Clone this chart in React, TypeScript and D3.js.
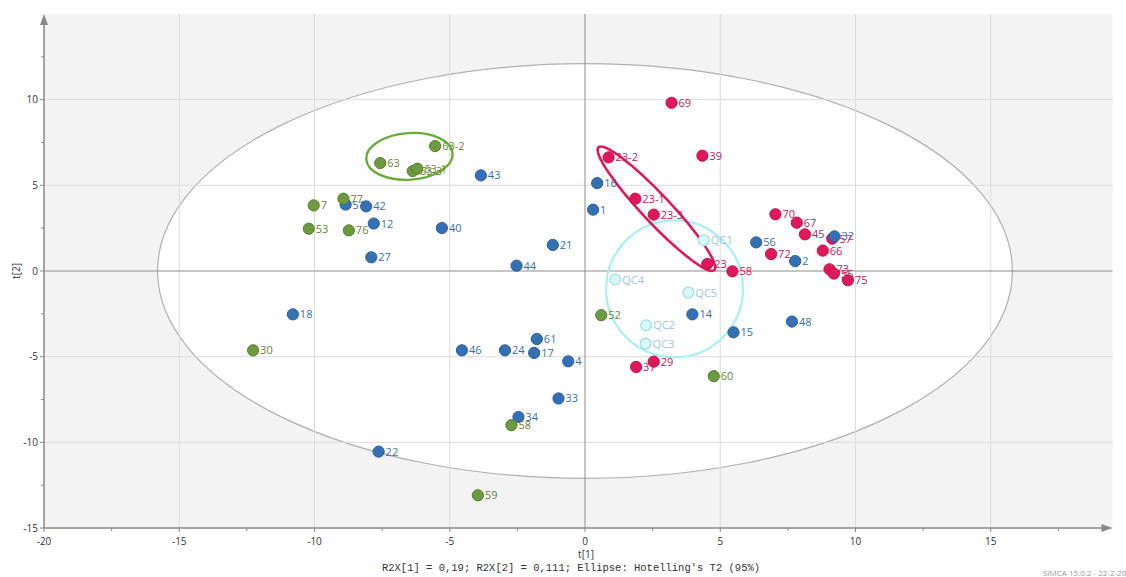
import React from "react";
import * as d3 from "d3";

const W = 1126;
const H = 577;

// ---- data ----
const blueLabels = ["43","51","42","12","40","27","44","21","1","16","56","2","32","18","46","24","17","61","4","33","34","22","14","15","48"];
const blueX = [-3.85,-8.85,-8.09,-7.81,-5.29,-7.90,-2.53,-1.19,0.30,0.45,6.33,7.77,9.22,-10.80,-4.55,-2.96,-1.88,-1.78,-0.62,-0.98,-2.46,-7.63,3.97,5.49,7.65];
const blueY = [5.58,3.88,3.77,2.77,2.51,0.80,0.31,1.52,3.58,5.13,1.67,0.58,2.02,-2.53,-4.63,-4.63,-4.78,-3.97,-5.27,-7.44,-8.52,-10.54,-2.53,-3.58,-2.95];

const greenLabels = ["63-2","63","63-3","63-1","77","7","53","76","30","52","58","59","60"];
const greenX = [-5.54,-7.57,-6.37,-6.20,-8.93,-10.03,-10.21,-8.73,-12.27,0.60,-2.72,-3.96,4.76];
const greenY = [7.29,6.30,5.83,5.97,4.22,3.83,2.47,2.37,-4.63,-2.58,-9.00,-13.09,-6.14];

const redLabels = ["69","23-2","39","23-1","23-3","23","58","70","67","45","57","66","72","73","55","75","29","37"];
const redX = [3.20,0.87,4.34,1.86,2.54,4.52,5.45,7.04,7.83,8.13,9.14,8.79,6.88,9.04,9.20,9.72,2.54,1.89];
const redY = [9.82,6.63,6.73,4.22,3.29,0.41,-0.02,3.31,2.82,2.14,1.89,1.19,0.99,0.10,-0.15,-0.54,-5.29,-5.60];

const qcLabels = ["QC1","QC2","QC3","QC4","QC5"];
const qcX = [4.39,2.26,2.24,1.12,3.82];
const qcY = [1.79,-3.17,-4.24,-0.50,-1.26];

const xTicks = [-20,-15,-10,-5,0,5,10,15];
const yTicks = [-15,-10,-5,0,5,10];
const minorX = [-17.5,-12.5,-7.5,-2.5,2.5,7.5,12.5,17.5];
const minorY = [-12.5,-7.5,-2.5,2.5,7.5,12.5];

// Hotelling T2 ellipse (data units)
const hotelling = { cx: 0, cy: 0, rx: 15.8, ry: 12.1 };
// group ellipses (data units)
const greenEllipse = { cx: -6.49, cy: 6.69, rx: 1.6, ry: 1.36 };
const redEllipseEnds = [[0.50, 7.22], [4.78, 0.05]];
const cyanEllipse = { cx: 3.31, cy: -1.04, rx: 2.53, ry: 4.0 };

const footer = "R2X[1] = 0,19; R2X[2] = 0,111; Ellipse: Hotelling's T2 (95%)";
const credit = "SIMCA 15.0.2 - 22-2-2019";

const x = d3.scaleLinear().domain([-20, 20]).range([44, 1126]);
const y = d3.scaleLinear().domain([-15, 15]).range([528, 14]);

const BLUE = "#3470b4";
const BLUE_S = "#2a5d99";
const GREEN = "#6c9a3e";
const GREEN_S = "#557d2f";
const RED = "#e0185a";
const RED_S = "#c0104a";

function Points({ labels, xs, ys, fill, stroke, text, r = 5.6, sw = 1 }: any) {
  return (
    <g>
      {labels.map((l: string, i: number) => (
        <g key={l + i}>
          <circle cx={x(xs[i])} cy={y(ys[i])} r={r} fill={fill} stroke={stroke} strokeWidth={sw} />
          <text x={x(xs[i]) + 7} y={y(ys[i]) + 4} fontSize={11} fill={text} fontFamily="'Open Sans', 'Noto Sans', sans-serif">{l}</text>
        </g>
      ))}
    </g>
  );
}

export default function App() {
  const xEnd = x(19.5);
  const yTop = y(15);
  const yBot = y(-15);
  const xL = x(-20);

  const [a, b] = redEllipseEnds;
  const p1 = [x(a[0]), y(a[1])];
  const p2 = [x(b[0]), y(b[1])];
  const rcx = (p1[0] + p2[0]) / 2;
  const rcy = (p1[1] + p2[1]) / 2;
  const rlen = Math.hypot(p2[0] - p1[0], p2[1] - p1[1]) / 2;
  const rang = (Math.atan2(p2[1] - p1[1], p2[0] - p1[0]) * 180) / Math.PI;

  return (
    <svg width={W} height={H} style={{ position: "absolute", left: 0, top: 0, background: "#fff" }}>
      <rect x={xL} y={yTop} width={xEnd - xL} height={yBot - yTop} fill="#f3f3f3" />
      <ellipse cx={x(hotelling.cx)} cy={y(hotelling.cy)} rx={x(hotelling.rx) - x(0)} ry={y(0) - y(hotelling.ry)} fill="#ffffff" stroke="#b0b0b0" strokeWidth={1.2} />
      {/* grid */}
      {xTicks.filter(t => t !== 0 && t !== -20).map(t => (
        <line key={"gx" + t} x1={x(t)} x2={x(t)} y1={yTop} y2={yBot} stroke="#dcdcdc" strokeWidth={1} />
      ))}
      {[10, 5, -5, -10].map(t => (
        <line key={"gy" + t} x1={xL} x2={xEnd} y1={y(t)} y2={y(t)} stroke="#dcdcdc" strokeWidth={1} />
      ))}
      <line x1={x(0)} x2={x(0)} y1={yTop} y2={yBot} stroke="#8c8c8c" strokeWidth={1} />
      <line x1={xL} x2={xEnd} y1={y(0)} y2={y(0)} stroke="#8c8c8c" strokeWidth={1} />

      {/* axes */}
      <line x1={xL} x2={xL} y1={yBot} y2={yTop + 8} stroke="#888" strokeWidth={1.5} />
      <path d={`M${xL - 4},${yTop + 11} L${xL},${yTop} L${xL + 4},${yTop + 11} Z`} fill="#888" />
      <line x1={xL} x2={xEnd - 8} y1={yBot} y2={yBot} stroke="#888" strokeWidth={1.5} />
      <path d={`M${xEnd - 11},${yBot - 4} L${xEnd},${yBot} L${xEnd - 11},${yBot + 4} Z`} fill="#888" />
      {xTicks.map(t => (
        <g key={"tx" + t}>
          <line x1={x(t)} x2={x(t)} y1={yBot} y2={yBot + 4} stroke="#888" />
          <text x={x(t)} y={yBot + 17} fontSize={10} textAnchor="middle" fill="#333" fontFamily="'Open Sans', sans-serif">{t}</text>
        </g>
      ))}
      {minorX.map(t => (
        <line key={"mx" + t} x1={x(t)} x2={x(t)} y1={yBot} y2={yBot + 3} stroke="#888" />
      ))}
      {yTicks.map(t => (
        <g key={"ty" + t}>
          <line x1={xL - 4} x2={xL} y1={y(t)} y2={y(t)} stroke="#888" />
          <text x={xL - 6} y={y(t) + 3.5} fontSize={10} textAnchor="end" fill="#333" fontFamily="'Open Sans', sans-serif">{t}</text>
        </g>
      ))}
      {minorY.map(t => (
        <line key={"my" + t} x1={xL - 3} x2={xL} y1={y(t)} y2={y(t)} stroke="#888" />
      ))}
      <text x={x(0) + 1} y={558} fontSize={10} textAnchor="middle" fill="#333" fontFamily="'Open Sans', sans-serif">t[1]</text>
      <text transform={`translate(20,${y(0)}) rotate(-90)`} fontSize={10} textAnchor="middle" fill="#333" fontFamily="'Open Sans', sans-serif">t[2]</text>
      <text x={571} y={571} fontSize={10.5} textAnchor="middle" fill="#333" fontFamily="'Liberation Mono', monospace">{footer}</text>
      <text x={1043} y={576} fontSize={8} fill="#999" fontFamily="'Open Sans', sans-serif">{credit}</text>

      {/* group ellipses */}
      <ellipse cx={x(cyanEllipse.cx)} cy={y(cyanEllipse.cy)} rx={x(cyanEllipse.rx) - x(0)} ry={y(0) - y(cyanEllipse.ry)} fill="none" stroke="#a8f0f0" strokeWidth={2.2} />
      <ellipse cx={x(greenEllipse.cx)} cy={y(greenEllipse.cy)} rx={x(greenEllipse.rx) - x(0)} ry={y(0) - y(greenEllipse.ry)} fill="none" stroke="#6aaa38" strokeWidth={2.4} transform={`rotate(-4 ${x(greenEllipse.cx)} ${y(greenEllipse.cy)})`} />
      <ellipse cx={rcx} cy={rcy} rx={rlen} ry={14} fill="none" stroke={RED} strokeWidth={2.6} transform={`rotate(${rang} ${rcx} ${rcy})`} />

      <Points labels={redLabels} xs={redX} ys={redY} fill={RED} stroke={RED_S} text="#c2185b" />
      <Points labels={blueLabels} xs={blueX} ys={blueY} fill={BLUE} stroke={BLUE_S} text="#3a6ea8" />
      <Points labels={greenLabels} xs={greenX} ys={greenY} fill={GREEN} stroke={GREEN_S} text="#6b7f34" />
      <Points labels={qcLabels} xs={qcX} ys={qcY} fill="#d8f8f8" stroke="#9ee0e0" text="#9cc8cc" r={5.4} sw={1.3} />
    </svg>
  );
}
